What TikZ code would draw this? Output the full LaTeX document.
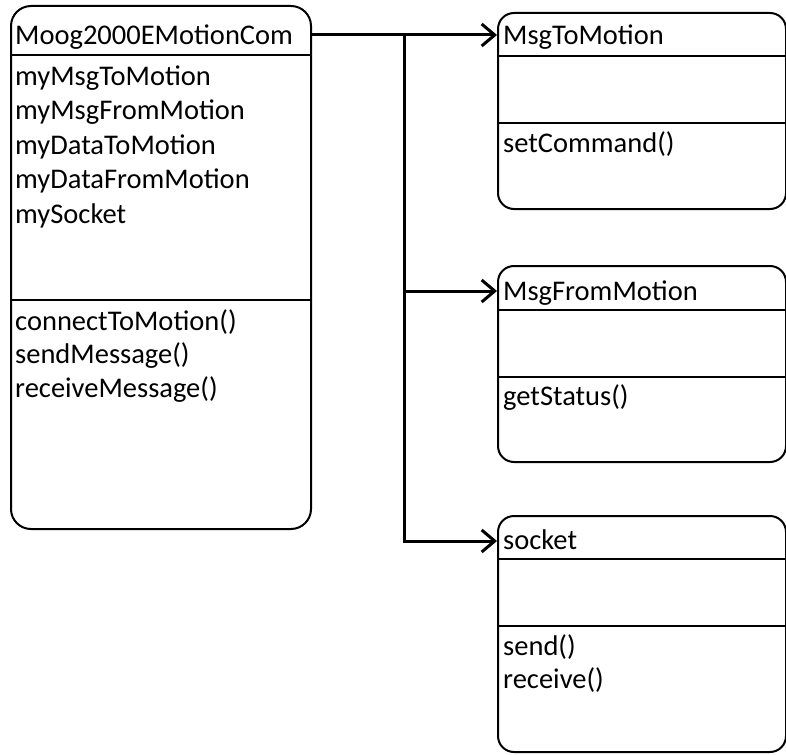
\documentclass[tikz,border=0pt]{standalone}
\usepackage{fontspec}
\setmainfont{Carlito}
\usetikzlibrary{arrows.meta,positioning,calc}
\tikzset{
  cls/.style  = {rectangle, rounded corners=16pt, draw, line width=2pt,
                 anchor=north west, inner sep=0pt, minimum width=288pt},
  lbl/.style  = {anchor=base west, inner sep=0pt, font=\fontsize{28.5}{34}\selectfont},
  sep/.style  = {line width=2pt},
  link/.style = {line width=3pt},
  flow/.style = {-{Straight Barb[length=13pt,width=22pt]}, line width=3pt},
}

\begin{document}
\begin{tikzpicture}[x=1pt,y=-1pt]
    \useasboundingbox (0,0) rectangle (786,754);
    % class boxes
    \node[cls, rounded corners=20pt, minimum width=300pt, minimum height=523pt] (com) at (10,5) {};
    \node[cls, minimum height=196pt] (to)   at (497,12) {};
    \node[cls, minimum height=196pt] (from) at (497,265) {};
    \node[cls, minimum height=236pt] (sock) at (497,515) {};
    % compartment lines
    \draw[sep] (com.west |- 0,55)   -- (com.east |- 0,55);
    \draw[sep] (com.west |- 0,300)  -- (com.east |- 0,300);
    \draw[sep] (to.west |- 0,56)    -- (to.east |- 0,56);
    \draw[sep] (to.west |- 0,123)   -- (to.east |- 0,123);
    \draw[sep] (from.west |- 0,310) -- (from.east |- 0,310);
    \draw[sep] (from.west |- 0,377) -- (from.east |- 0,377);
    \draw[sep] (sock.west |- 0,559) -- (sock.east |- 0,559);
    \draw[sep] (sock.west |- 0,626) -- (sock.east |- 0,626);
    % Moog2000EMotionCom
    \node[lbl] (comname) at (15,45)  {Moog2000EMotionCom};
    \node[lbl] (attr1)   at (15,86)  {myMsgToMotion};
    \node[lbl] (attr2)   at (15,120) {myMsgFromMotion};
    \node[lbl] (attr3)   at (15,155) {myDataToMotion};
    \node[lbl] (attr4)   at (15,189) {myDataFromMotion};
    \node[lbl] (attr5)   at (15,223) {mySocket};
    \node[lbl] (op1)     at (15,330) {connectToMotion()};
    \node[lbl] (op2)     at (15,363) {sendMessage()};
    \node[lbl] (op3)     at (15,397) {receiveMessage()};
    % MsgToMotion
    \node[lbl] (toname)  at (503,45)  {MsgToMotion};
    \node[lbl] (toop)    at (503,153) {setCommand()};
    % MsgFromMotion
    \node[lbl] (fromname) at (503,300) {MsgFromMotion};
    \node[lbl] (fromop)   at (503,405) {getStatus()};
    % socket
    \node[lbl] (sockname) at (503,549) {socket};
    \node[lbl] (sockop1)  at (503,655) {send()};
    \node[lbl] (sockop2)  at (503,688) {receive()};
    % edges
    \coordinate (split) at (404,35);
    \draw[flow] (com.east |- split) -- (to.west |- split);
    \draw[link] (split) -- (split |- 0,300);
    \draw[flow] (split) |- ($(from.north west)+(0,26)$);
    \draw[flow] (split) |- ($(sock.north west)+(0,26)$);
\end{tikzpicture}
\end{document}
